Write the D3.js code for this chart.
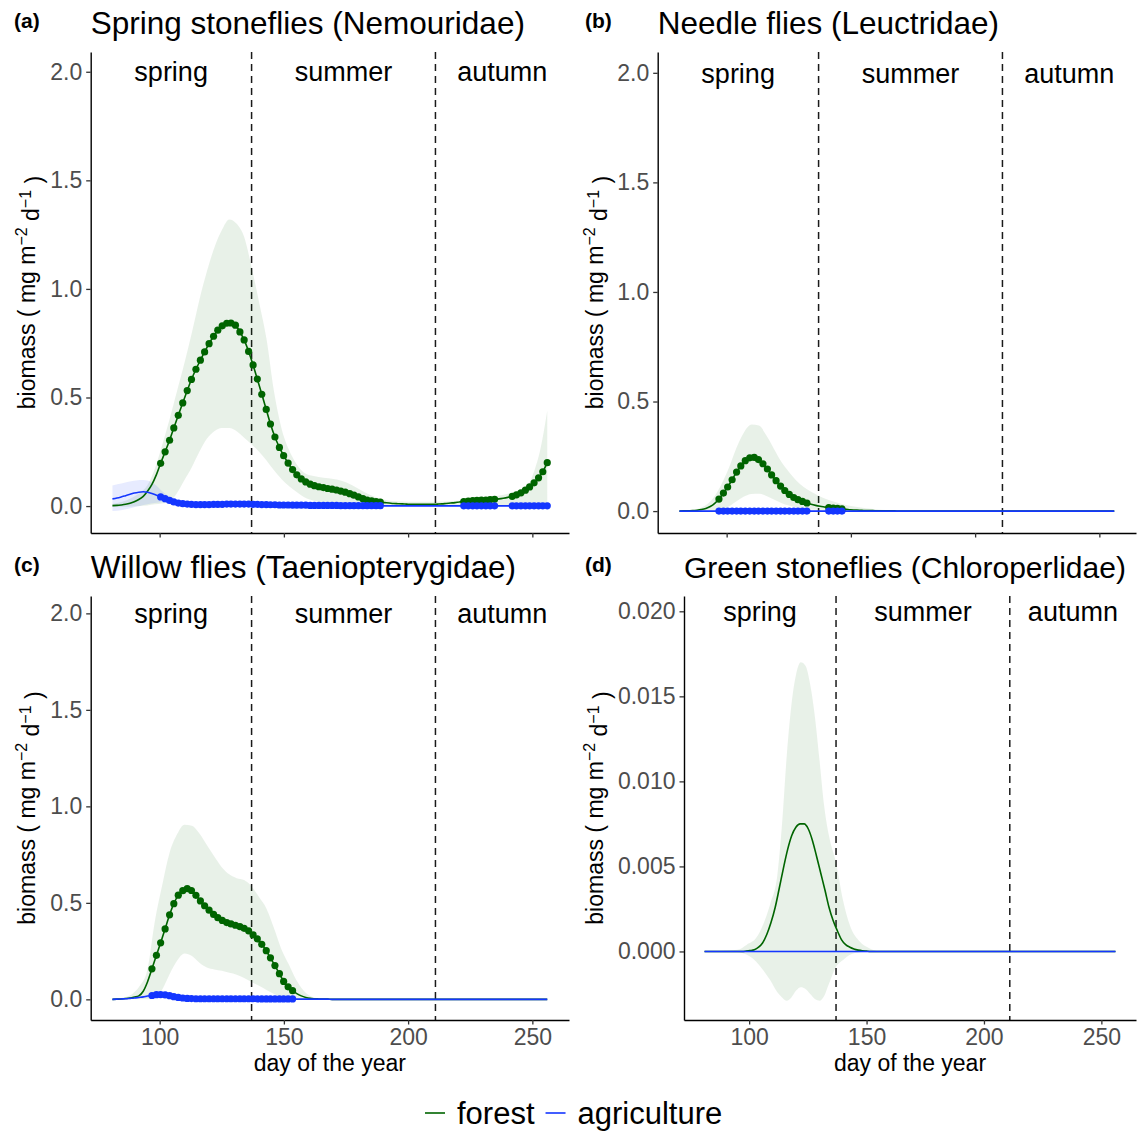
<!DOCTYPE html>
<html>
<head>
<meta charset="utf-8">
<script src="https://cdn.jsdelivr.net/npm/d3@7"></script>
<style>
  body { margin: 0; background: #fff; }
  svg text { font-family: "Liberation Sans", Arial, sans-serif; }
</style>
</head>
<body>
<div id="chart"></div>
<script>
// prediction grid, day of the year (100 points)
const days = [
  81.0, 82.8, 84.5, 86.3, 88.1, 89.8, 91.6, 93.4, 95.1, 96.9,
  98.7, 100.4, 102.2, 104.0, 105.7, 107.5, 109.3, 111.1, 112.8, 114.6,
  116.4, 118.1, 119.9, 121.7, 123.4, 125.2, 127.0, 128.7, 130.5, 132.3,
  134.0, 135.8, 137.6, 139.3, 141.1, 142.9, 144.6, 146.4, 148.2, 149.9,
  151.7, 153.5, 155.2, 157.0, 158.8, 160.6, 162.3, 164.1, 165.9, 167.6,
  169.4, 171.2, 172.9, 174.7, 176.5, 178.2, 180.0, 181.8, 183.5, 185.3,
  187.1, 188.8, 190.6, 192.4, 194.1, 195.9, 197.7, 199.4, 201.2, 203.0,
  204.7, 206.5, 208.3, 210.0, 211.8, 213.6, 215.3, 217.1, 218.9, 220.6,
  222.4, 224.2, 226.0, 227.7, 229.5, 231.3, 233.0, 234.8, 236.6, 238.3,
  240.1, 241.9, 243.6, 245.4, 247.2, 248.9, 250.7, 252.5, 254.2, 256.0
];

const seasonBreaks = [137, 211];
const seasonNames = ["spring", "summer", "autumn"];
const xTicks = [100, 150, 200, 250];
const yTicksBiomass = [0, 0.5, 1, 1.5, 2];
const yTicksSmall = [0, 0.005, 0.01, 0.015, 0.02];
const legendNames = ["forest", "agriculture"];

//--------------------------------------------------(a) Nemouridae---------------------------------------
const forestA = [
  0.002, 0.003, 0.005, 0.008, 0.013, 0.02, 0.03, 0.045, 0.068, 0.10,
  0.145, 0.197, 0.25, 0.303, 0.36, 0.418, 0.475, 0.532, 0.583, 0.63,
  0.672, 0.71, 0.748, 0.782, 0.81, 0.83, 0.842, 0.843, 0.833, 0.802,
  0.765, 0.712, 0.65, 0.585, 0.515, 0.445, 0.378, 0.318, 0.27, 0.232,
  0.198, 0.168, 0.144, 0.125, 0.111, 0.101, 0.094, 0.089, 0.085, 0.081,
  0.078, 0.074, 0.069, 0.064, 0.057, 0.05, 0.042, 0.034, 0.028, 0.024,
  0.021, 0.018, 0.016, 0.014, 0.012, 0.011, 0.01, 0.009, 0.008, 0.008,
  0.008, 0.008, 0.008, 0.008, 0.009, 0.01, 0.012, 0.014, 0.016, 0.019,
  0.021, 0.023, 0.025, 0.026, 0.027, 0.028, 0.03, 0.031, 0.033, 0.036,
  0.04, 0.045, 0.052, 0.061, 0.073, 0.088, 0.107, 0.13, 0.158, 0.2
];
const agriA = [
  0.033, 0.037, 0.042, 0.048, 0.054, 0.06, 0.064, 0.066, 0.064, 0.058,
  0.05, 0.042, 0.034, 0.026, 0.019, 0.014, 0.011, 0.009, 0.008, 0.007,
  0.007, 0.007, 0.007, 0.008, 0.008, 0.008, 0.009, 0.009, 0.009, 0.009,
  0.009, 0.009, 0.008, 0.008, 0.007, 0.007, 0.006, 0.006, 0.005, 0.005,
  0.005, 0.004, 0.004, 0.004, 0.004, 0.003, 0.003, 0.003, 0.003, 0.003,
  0.003, 0.003, 0.002, 0.002, 0.002, 0.002, 0.002, 0.002, 0.002, 0.002,
  0.002, 0.002, 0.001, 0.001, 0.001, 0.001, 0.001, 0.001, 0.001, 0.001,
  0.001, 0.001, 0.001, 0.001, 0.001, 0.001, 0.001, 0.001, 0.001, 0.001,
  0.001, 0.001, 0.001, 0.001, 0.001, 0.001, 0.001, 0.001, 0.001, 0.001,
  0.001, 0.001, 0.001, 0.001, 0.001, 0.001, 0.001, 0.001, 0.001, 0.001
];
const forestBandDaysA = [81, 85, 89, 92, 95, 98, 101, 104, 107, 110, 113, 116, 119, 122, 125, 128, 131, 134, 137, 140,
  143, 146, 149, 152, 155, 158, 162, 166, 170, 175, 180, 185, 190, 195, 200, 210, 220, 228, 236, 243, 248, 251, 253, 255, 256];
const forestHiA = [0.01, 0.02, 0.04, 0.06, 0.095, 0.17, 0.28, 0.4, 0.53, 0.66, 0.8, 0.95, 1.08, 1.19, 1.27, 1.32, 1.3, 1.24, 1.1, 0.94,
  0.77, 0.53, 0.36, 0.26, 0.195, 0.155, 0.138, 0.13, 0.125, 0.11, 0.08, 0.05, 0.03, 0.022, 0.02, 0.02, 0.025, 0.035, 0.047, 0.066, 0.095, 0.17, 0.25, 0.37, 0.44];
const forestLoA = [-0.003, -0.003, -0.002, 0.0, 0.003, 0.008, 0.012, 0.02, 0.06, 0.12, 0.18, 0.25, 0.31, 0.345, 0.36, 0.36, 0.345, 0.315, 0.285, 0.25,
  0.21, 0.165, 0.125, 0.092, 0.066, 0.042, 0.025, 0.015, 0.01, 0.005, 0.003, 0.002, 0.001, 0.0, 0.0, -0.001, -0.002, -0.002, -0.002, -0.002, -0.002, -0.002, -0.002, -0.002, -0.002];
const agriBandDaysA = [81, 85, 89, 92, 95, 98, 101, 104, 107, 110, 115, 120, 130, 140, 150, 160, 180, 200, 220, 240, 256];
const agriLoA = [-0.023, -0.018, -0.008, 0.0, 0.008, 0.014, 0.018, 0.012, 0.006, 0.004, 0.003, 0.003, 0.004, 0.004, 0.003, 0.002, 0.0, -0.001, -0.001, -0.001, -0.002];
const agriHiA = [0.095, 0.105, 0.115, 0.12, 0.118, 0.1, 0.068, 0.042, 0.026, 0.017, 0.012, 0.011, 0.013, 0.012, 0.009, 0.006, 0.004, 0.003, 0.003, 0.003, 0.003];
const signifA = [[100, 189], [221, 235], [241, 256]];

//--------------------------------------------------(b) Leuctridae---------------------------------------
const forestB = [
  0.0, 0.001, 0.001, 0.002, 0.004, 0.007, 0.012, 0.021, 0.034, 0.055,
  0.082, 0.11, 0.143, 0.178, 0.206, 0.23, 0.243, 0.245, 0.235, 0.216,
  0.192, 0.165, 0.139, 0.114, 0.094, 0.076, 0.062, 0.052, 0.044, 0.037,
  0.031, 0.026, 0.022, 0.019, 0.016, 0.014, 0.012, 0.01, 0.008, 0.006,
  0.005, 0.004, 0.003, 0.002, 0.002, 0.001, 0.001, 0.001, 0.001, 0.001,
  0, 0, 0, 0, 0, 0, 0, 0, 0, 0,
  0, 0, 0, 0, 0, 0, 0, 0, 0, 0,
  0, 0, 0, 0, 0, 0, 0, 0, 0, 0,
  0, 0, 0, 0, 0, 0, 0, 0, 0, 0,
  0, 0, 0, 0, 0, 0, 0, 0, 0, 0
];
const agriB = [
  0, 0, 0, 0, 0, 0, 0, 0, 0, 0,
  0, 0, 0, 0, 0, 0, 0, 0, 0, 0,
  0, 0, 0, 0, 0, 0, 0, 0, 0, 0,
  0, 0, 0, 0, 0, 0, 0, 0, 0, 0,
  0, 0, 0, 0, 0, 0, 0, 0, 0, 0,
  0, 0, 0, 0, 0, 0, 0, 0, 0, 0,
  0, 0, 0, 0, 0, 0, 0, 0, 0, 0,
  0, 0, 0, 0, 0, 0, 0, 0, 0, 0,
  0, 0, 0, 0, 0, 0, 0, 0, 0, 0,
  0, 0, 0, 0, 0, 0, 0, 0, 0, 0
];
const forestBandDaysB = [81, 85, 89, 92, 95, 98, 101, 104, 107, 110, 113, 116, 119, 122, 125, 128, 131, 134, 137, 140, 144, 148, 152, 156, 162, 170, 256];
const forestHiB = [0.0, 0.003, 0.012, 0.03, 0.065, 0.125, 0.2, 0.29, 0.36, 0.395, 0.39, 0.345, 0.285, 0.225, 0.18, 0.14, 0.11, 0.088, 0.07, 0.055, 0.04, 0.028, 0.02, 0.013, 0.006, 0.002, 0.0];
const forestLoB = [0.0, 0.0, 0.0, 0.0, 0.002, 0.008, 0.022, 0.045, 0.066, 0.078, 0.079, 0.069, 0.053, 0.037, 0.025, 0.016, 0.011, 0.007, 0.005, 0.003, 0.002, 0.001, 0.0, 0.0, 0.0, 0.0, 0.0];
const agriBandDaysB = [81, 256];
const agriLoB = [-0.002, -0.002];
const agriHiB = [0.002, 0.002];
const signifB = [[96, 133], [141, 147]];

//--------------------------------------------------(c) Taeniopterygidae---------------------------------------
const forestC = [
  0.0, 0.001, 0.002, 0.004, 0.007, 0.012, 0.018, 0.042, 0.09, 0.158,
  0.228, 0.293, 0.365, 0.438, 0.496, 0.54, 0.563, 0.574, 0.564, 0.539,
  0.51, 0.485, 0.462, 0.44, 0.423, 0.409, 0.398, 0.391, 0.384, 0.377,
  0.368, 0.355, 0.334, 0.313, 0.285, 0.252, 0.215, 0.175, 0.133, 0.093,
  0.065, 0.045, 0.03, 0.018, 0.01, 0.005, 0.003, 0.002, 0.001, 0.001,
  0, 0, 0, 0, 0, 0, 0, 0, 0, 0,
  0, 0, 0, 0, 0, 0, 0, 0, 0, 0,
  0, 0, 0, 0, 0, 0, 0, 0, 0, 0,
  0, 0, 0, 0, 0, 0, 0, 0, 0, 0,
  0, 0, 0, 0, 0, 0, 0, 0, 0, 0
];
const agriC = [
  0.0, 0.001, 0.002, 0.003, 0.005, 0.007, 0.01, 0.013, 0.017, 0.02,
  0.024, 0.025, 0.023, 0.019, 0.014, 0.01, 0.007, 0.005, 0.004, 0.003,
  0.003, 0.003, 0.003, 0.003, 0.003, 0.003, 0.003, 0.003, 0.003, 0.003,
  0.003, 0.003, 0.003, 0.002, 0.002, 0.002, 0.002, 0.002, 0.002, 0.002,
  0.002, 0.002, 0.001, 0.001, 0.001, 0.001, 0.001, 0.001, 0.001, 0.001,
  0, 0, 0, 0, 0, 0, 0, 0, 0, 0,
  0, 0, 0, 0, 0, 0, 0, 0, 0, 0,
  0, 0, 0, 0, 0, 0, 0, 0, 0, 0,
  0, 0, 0, 0, 0, 0, 0, 0, 0, 0,
  0, 0, 0, 0, 0, 0, 0, 0, 0, 0
];
const forestBandDaysC = [81, 85, 89, 92, 95, 98, 101, 104, 107, 110, 113, 116, 119, 122, 125, 128, 131, 134, 137, 140, 143, 146, 149, 152, 155, 158, 161, 165, 170, 256];
const forestHiC = [0.0, 0.008, 0.028, 0.07, 0.15, 0.4, 0.59, 0.76, 0.855, 0.905, 0.9, 0.86, 0.8, 0.74, 0.685, 0.648, 0.628, 0.618, 0.585, 0.53, 0.47, 0.37, 0.26, 0.18, 0.1, 0.045, 0.015, 0.004, 0.001, 0.0];
const forestLoC = [0.0, 0.0, 0.0, 0.0, 0.0, 0.005, 0.05, 0.13, 0.2, 0.238, 0.225, 0.19, 0.165, 0.155, 0.148, 0.138, 0.128, 0.11, 0.09, 0.07, 0.048, 0.028, 0.014, 0.005, 0.001, 0.0, 0.0, 0.0, 0.0, 0.0];
const agriBandDaysC = [81, 86, 90, 94, 97, 101, 105, 110, 115, 120, 140, 155, 170, 256];
const agriLoC = [-0.002, 0.0, 0.003, 0.007, 0.01, 0.013, 0.008, 0.003, 0.002, 0.001, 0.0, 0.0, -0.001, -0.001];
const agriHiC = [0.002, 0.006, 0.012, 0.02, 0.03, 0.036, 0.027, 0.012, 0.007, 0.005, 0.004, 0.003, 0.002, 0.002];
const signifC = [[96, 154]];

//--------------------------------------------------(d) Chloroperlidae---------------------------------------
const forestD = [
  0, 0, 0, 0, 0, 0, 0, 0, 0, 0,
  0.00002, 0.00005, 0.0001, 0.00025, 0.0005, 0.001, 0.0017, 0.0026, 0.0037, 0.0049,
  0.006, 0.0068, 0.0073, 0.0075, 0.0075, 0.0072, 0.0065, 0.0056, 0.0046, 0.0036,
  0.0026, 0.0018, 0.0012, 0.0007, 0.0004, 0.00025, 0.00015, 0.00008, 0.00004, 0.00002,
  0, 0, 0, 0, 0, 0, 0, 0, 0, 0,
  0, 0, 0, 0, 0, 0, 0, 0, 0, 0,
  0, 0, 0, 0, 0, 0, 0, 0, 0, 0,
  0, 0, 0, 0, 0, 0, 0, 0, 0, 0,
  0, 0, 0, 0, 0, 0, 0, 0, 0, 0,
  0, 0, 0, 0, 0, 0, 0, 0, 0, 0
];
const agriD = agriB.slice();
const forestBandDaysD = [81, 95, 99, 103, 106, 109, 112, 114, 116, 118, 120, 122, 124, 126, 128, 130, 132, 134, 137, 140, 143, 147, 151, 156, 256];
const forestHiD = [0.0, 0.0001, 0.0004, 0.0008, 0.0016, 0.0028, 0.0045, 0.0075, 0.0115, 0.0145, 0.0163, 0.017, 0.0168, 0.0157, 0.0138, 0.0112, 0.0085, 0.0068, 0.0052, 0.003, 0.0015, 0.0006, 0.0002, 0.0, 0.0];
const forestLoD = [0.0, -0.00003, -0.0002, -0.0006, -0.0011, -0.0017, -0.0024, -0.0027, -0.0029, -0.0027, -0.0023, -0.0021, -0.0022, -0.0025, -0.0028, -0.0029, -0.0026, -0.0019, -0.0009, -0.0005, -0.0002, -0.00005, 0.0, 0.0, 0.0];
const agriBandDaysD = [81, 256];
const agriLoD = [-0.00005, -0.00005];
const agriHiD = [0.00005, 0.00005];
const signifD = [];

//--------------------------------------------------Layout---------------------------------------
const width = 1137, height = 1136;
const green = "#006400", blue = "#1436ff";
const xDomain = [72.25, 264.75];
const fmt1 = d3.format(".1f"), fmt3 = d3.format(".3f");

const panels = [
  { tag: "(a)", title: "Spring stoneflies (Nemouridae)", titleSize: 31.5, tagX: 14, col: 0,
    left: 90.7, right: 569, top: 52, bottom: 533, yDomain: [-0.124, 2.091], yTicks: yTicksBiomass, yFmt: fmt1, xLabels: false,
    forest: forestA, agri: agriA, fDays: forestBandDaysA, fLo: forestLoA, fHi: forestHiA,
    aDays: agriBandDaysA, aLo: agriLoA, aHi: agriHiA, signif: signifA },
  { tag: "(b)", title: "Needle flies (Leuctridae)", titleSize: 31.5, tagX: 585, col: 1,
    left: 657.7, right: 1136, top: 52, bottom: 533, yDomain: [-0.1, 2.095], yTicks: yTicksBiomass, yFmt: fmt1, xLabels: false,
    forest: forestB, agri: agriB, fDays: forestBandDaysB, fLo: forestLoB, fHi: forestHiB,
    aDays: agriBandDaysB, aLo: agriLoB, aHi: agriHiB, signif: signifB },
  { tag: "(c)", title: "Willow flies (Taeniopterygidae)", titleSize: 31.5, tagX: 14, col: 0,
    left: 90.7, right: 569, top: 596, bottom: 1020, yDomain: [-0.107, 2.09], yTicks: yTicksBiomass, yFmt: fmt1, xLabels: true,
    forest: forestC, agri: agriC, fDays: forestBandDaysC, fLo: forestLoC, fHi: forestHiC,
    aDays: agriBandDaysC, aLo: agriLoC, aHi: agriHiC, signif: signifC },
  { tag: "(d)", title: "Green stoneflies (Chloroperlidae)", titleSize: 30, tagX: 585, col: 1,
    left: 684, right: 1136, top: 596, bottom: 1020, yDomain: [-0.00403, 0.0209], yTicks: yTicksSmall, yFmt: fmt3, xLabels: true,
    forest: forestD, agri: agriD, fDays: forestBandDaysD, fLo: forestLoD, fHi: forestHiD,
    aDays: agriBandDaysD, aLo: agriLoD, aHi: agriHiD, signif: signifD }
];

const svg = d3.select("#chart")
  .append("svg")
  .attr("width", width)
  .attr("height", height);

svg.append("rect").attr("width", width).attr("height", height).attr("fill", "#fff");

function drawPanel(p) {
  const x = d3.scaleLinear().domain(xDomain).range([p.left, p.right]);
  const y = d3.scaleLinear().domain(p.yDomain).range([p.bottom, p.top]);
  const g = svg.append("g");

  // season separators
  g.selectAll(".season-line")
    .data(seasonBreaks)
    .enter()
    .append("line")
    .attr("x1", d => x(d)).attr("x2", d => x(d))
    .attr("y1", p.top).attr("y2", p.bottom)
    .attr("stroke", "#1a1a1a").attr("stroke-width", 1.5)
    .attr("stroke-dasharray", "7,5");

  // season labels, centred between the edges and the separators
  const edges = [p.left, ...seasonBreaks.map(d => x(d)), p.right];
  g.selectAll(".season-label")
    .data(seasonNames)
    .enter()
    .append("text")
    .attr("x", (d, i) => (edges[i] + edges[i + 1]) / 2)
    .attr("y", y(p.yTicks[p.yTicks.length - 1]))
    .attr("dy", "0.36em")
    .attr("text-anchor", "middle")
    .attr("font-size", 27)
    .attr("fill", "#000")
    .text(d => d);

  // confidence ribbons
  const band = (ds, lo, hi) => ds.map((d, i) => ({ day: d, lo: lo[i], hi: hi[i] }));
  const area = d3.area()
    .curve(d3.curveMonotoneX)
    .x(d => x(d.day))
    .y0(d => y(d.lo))
    .y1(d => y(d.hi));

  g.append("path")
    .attr("d", area(band(p.fDays, p.fLo, p.fHi)))
    .attr("fill", green).attr("fill-opacity", 0.09);
  g.append("path")
    .attr("d", area(band(p.aDays, p.aLo, p.aHi)))
    .attr("fill", blue).attr("fill-opacity", 0.1);

  // fitted curves
  const line = d3.line()
    .curve(d3.curveMonotoneX)
    .x(d => x(d.day))
    .y(d => y(d.v));
  const forestRows = days.map((d, i) => ({ day: d, v: p.forest[i] }));
  const agriRows = days.map((d, i) => ({ day: d, v: p.agri[i] }));

  g.append("path").attr("d", line(forestRows))
    .attr("fill", "none").attr("stroke", green).attr("stroke-width", 1.6);
  g.append("path").attr("d", line(agriRows))
    .attr("fill", "none").attr("stroke", blue).attr("stroke-width", 1.6);

  // points where the trend is significant
  const inSignif = d => p.signif.some(r => d.day >= r[0] && d.day <= r[1]);
  g.selectAll(".pf")
    .data(forestRows.filter(inSignif))
    .enter()
    .append("circle")
    .attr("cx", d => x(d.day)).attr("cy", d => y(d.v))
    .attr("r", 3.6).attr("fill", green);
  g.selectAll(".pa")
    .data(agriRows.filter(inSignif))
    .enter()
    .append("circle")
    .attr("cx", d => x(d.day)).attr("cy", d => y(d.v))
    .attr("r", 3.6).attr("fill", blue);

  // axes
  const yAxis = g.append("g")
    .attr("transform", "translate(" + p.left + ",0)")
    .call(d3.axisLeft(y).tickValues(p.yTicks).tickFormat(p.yFmt).tickSize(4.5).tickSizeOuter(0).tickPadding(4));
  const xAxis = g.append("g")
    .attr("transform", "translate(0," + p.bottom + ")")
    .call(d3.axisBottom(x).tickValues(xTicks).tickFormat(p.xLabels ? d3.format("d") : "").tickSize(4.5).tickSizeOuter(0).tickPadding(4.5));

  [yAxis, xAxis].forEach(a => {
    a.select(".domain").attr("stroke", "#000").attr("stroke-width", 1.4);
    a.selectAll(".tick line").attr("stroke", "#333").attr("stroke-width", 1.3);
    a.selectAll(".tick text")
      .attr("fill", "#4D4D4D")
      .attr("font-size", 23)
      .style("font-family", '"Liberation Sans", Arial, sans-serif');
  });

  // panel tag and title
  const rowTop = p.top - 52;
  svg.append("text")
    .attr("x", p.tagX).attr("y", rowTop + 28)
    .attr("font-size", 21).attr("font-weight", "bold")
    .text(p.tag);
  svg.append("text")
    .attr("x", p.left).attr("y", rowTop + 34)
    .attr("font-size", p.titleSize)
    .text(p.title);

  // y axis title with superscripts
  const yt = svg.append("text")
    .attr("transform", "translate(" + (p.col === 0 ? 27 : 595) + "," + (p.top + p.bottom) / 2 + ") rotate(-90)")
    .attr("text-anchor", "middle")
    .attr("dy", "0.36em")
    .attr("font-size", 23);
  yt.append("tspan").text("biomass ( mg  m");
  yt.append("tspan").attr("dy", "-0.5em").attr("font-size", 16).text("\u22122");
  yt.append("tspan").attr("dy", "0.5em").text(" d");
  yt.append("tspan").attr("dy", "-0.5em").attr("font-size", 16).text("\u22121");
  yt.append("tspan").attr("dy", "0.5em").text(" )");

  if (p.xLabels) {
    svg.append("text")
      .attr("x", (p.left + p.right) / 2).attr("y", 1071)
      .attr("text-anchor", "middle")
      .attr("font-size", 23)
      .text("day of the year");
  }
}

panels.forEach(drawPanel);

//--------------------------------------------------Legend---------------------------------------
const legend = svg.append("g").attr("transform", "translate(0,1113)");
let lx = 425;
legendNames.forEach((name, i) => {
  legend.append("line")
    .attr("x1", lx).attr("x2", lx + 20)
    .attr("y1", 0).attr("y2", 0)
    .attr("stroke", i === 0 ? green : blue).attr("stroke-width", 1.6);
  const t = legend.append("text")
    .attr("x", lx + 32).attr("y", 0).attr("dy", "0.36em")
    .attr("font-size", 31)
    .text(name);
  lx = lx + 32 + t.node().getComputedTextLength() + 11;
});
</script>
</body>
</html>
